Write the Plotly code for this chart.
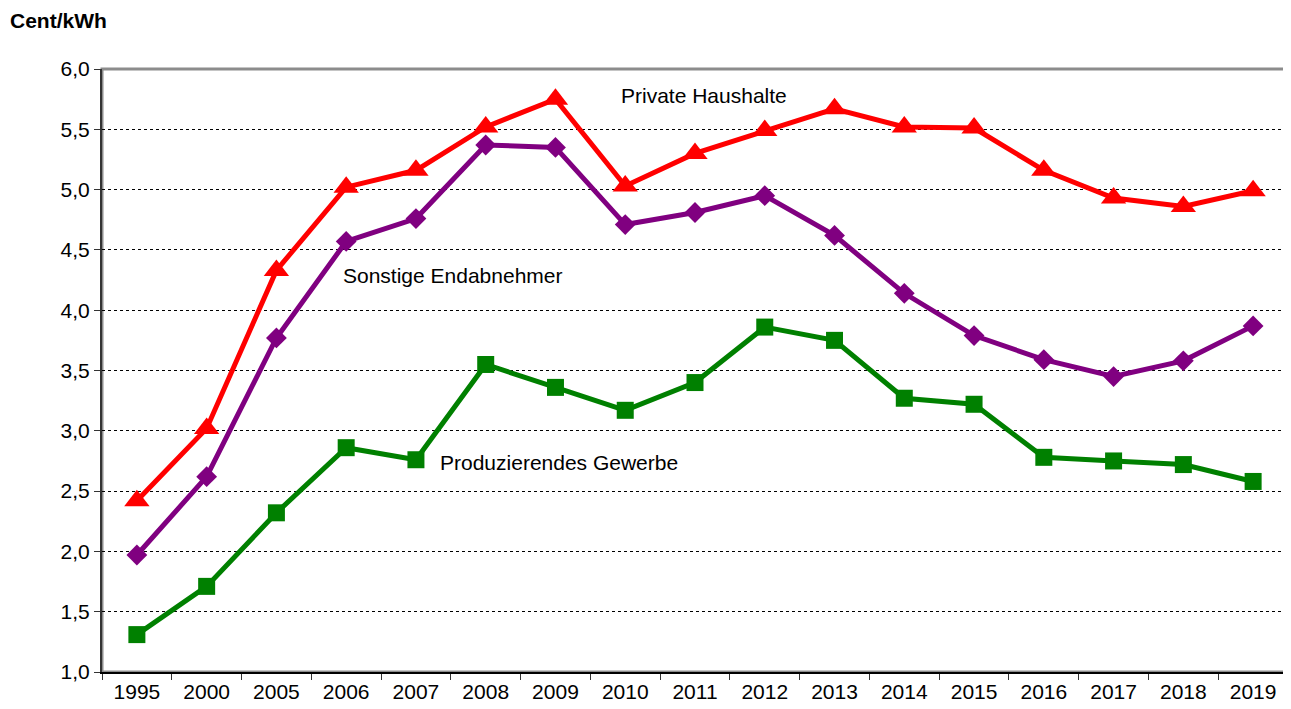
import plotly.graph_objects as go

years = ["1995", "2000", "2005", "2006", "2007", "2008", "2009", "2010", "2011",
         "2012", "2013", "2014", "2015", "2016", "2017", "2018", "2019"]
private_haushalte = [2.42, 3.02, 4.33, 5.02, 5.16, 5.52, 5.75, 5.03, 5.30,
                     5.49, 5.67, 5.52, 5.51, 5.16, 4.93, 4.86, 4.99]
sonstige = [1.97, 2.62, 3.77, 4.57, 4.76, 5.37, 5.35, 4.71, 4.81,
            4.95, 4.62, 4.14, 3.79, 3.59, 3.45, 3.58, 3.87]
produzierendes = [1.31, 1.71, 2.32, 2.86, 2.76, 3.55, 3.36, 3.17, 3.40,
                  3.86, 3.75, 3.27, 3.22, 2.78, 2.75, 2.72, 2.58]
y_ticks = [1.0, 1.5, 2.0, 2.5, 3.0, 3.5, 4.0, 4.5, 5.0, 5.5, 6.0]

FONT = "Liberation Sans, Arial, sans-serif"
FS = 21

fig = go.Figure()
fig.add_trace(go.Scatter(x=years, y=private_haushalte, mode="lines+markers",
                         name="Private Haushalte",
                         line=dict(color="#ff0000", width=5),
                         marker=dict(symbol="triangle-up", size=22, color="#ff0000")))
fig.add_trace(go.Scatter(x=years, y=sonstige, mode="lines+markers",
                         name="Sonstige Endabnehmer",
                         line=dict(color="#800080", width=5),
                         marker=dict(symbol="diamond", size=16, color="#800080")))
fig.add_trace(go.Scatter(x=years, y=produzierendes, mode="lines+markers",
                         name="Produzierendes Gewerbe",
                         line=dict(color="#008000", width=5),
                         marker=dict(symbol="square", size=17, color="#008000")))

# gray frame (top/right)
fig.add_shape(type="rect", xref="paper", yref="paper", x0=0, x1=1, y0=0, y1=1,
              line=dict(color="#8c8c8c", width=3), layer="below")

fig.add_annotation(x=8, xref="x", y=5.78, yref="y", text="Private Haushalte",
                   showarrow=False, font=dict(family=FONT, size=FS, color="black"),
                   xshift=9)
fig.add_annotation(x=4.5, xref="x", y=4.29, yref="y", text="Sonstige Endabnehmer",
                   showarrow=False, font=dict(family=FONT, size=FS, color="black"),
                   xshift=2)
fig.add_annotation(x=6, xref="x", y=2.74, yref="y", text="Produzierendes Gewerbe",
                   showarrow=False, font=dict(family=FONT, size=FS, color="black"),
                   xshift=4)
fig.add_annotation(x=-94 / 1186, xref="paper", y=1 + 49 / 603, yref="paper",
                   xanchor="left", yanchor="middle", text="<b>Cent/kWh</b>",
                   showarrow=False, font=dict(family=FONT, size=FS, color="black"))

fig.update_layout(
    width=1283, height=701,
    margin=dict(l=94, r=3, t=61, b=37),
    paper_bgcolor="white", plot_bgcolor="white",
    showlegend=False,
    separators=",.",
    font=dict(family=FONT, size=FS, color="black"),
    xaxis=dict(type="category", tickson="boundaries", ticks="outside", ticklen=6,
               tickcolor="#333", showline=True, linecolor="black", linewidth=2,
               showgrid=False, tickfont=dict(size=FS), range=[-0.5, 16.5]),
    yaxis=dict(range=[1.0, 6.0], tickvals=y_ticks, tickformat=".1f",
               ticks="outside", ticklen=6, tickcolor="#333",
               showline=True, linecolor="#333", linewidth=2,
               showgrid=True, gridcolor="black", gridwidth=1, griddash="dot",
               tickfont=dict(size=FS), zeroline=False),
)

fig.write_html("out.html")
